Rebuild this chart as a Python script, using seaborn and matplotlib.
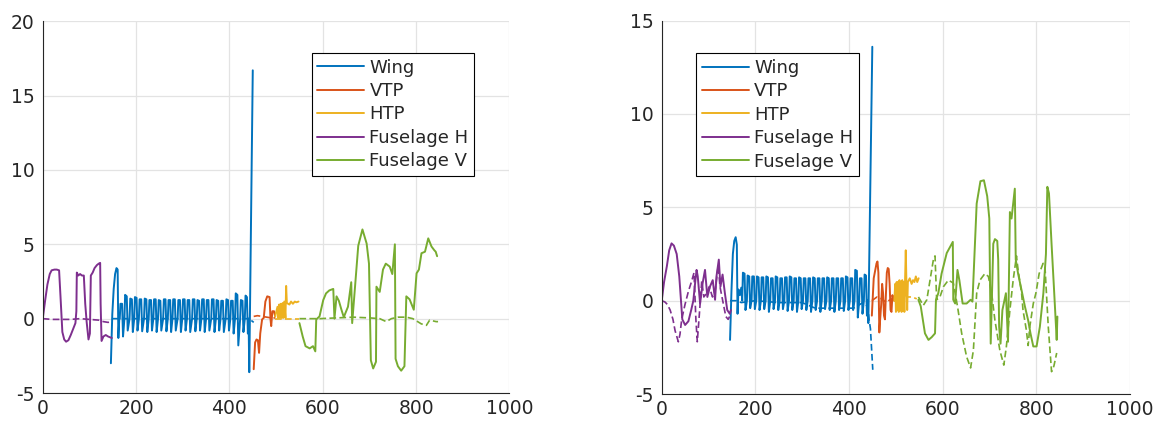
import matplotlib
matplotlib.use("Agg")
import matplotlib.pyplot as plt
import seaborn as sns
from matplotlib.lines import Line2D

sns.set_theme(style="whitegrid")
plt.rcParams['font.family'] = ['DejaVu Sans']
plt.rcParams['axes.unicode_minus'] = False

NAMES = ['Wing', 'VTP', 'HTP', 'Fuselage H', 'Fuselage V']
COLORS = ['#0072BD', '#D95319', '#EDB120', '#7E2F8E', '#77AC30']

# ---------------- left panel ----------------
fush_l_x = [0, 5, 10, 15, 19, 25, 30, 35, 38, 42, 46, 50, 55, 60, 65, 70, 72, 73, 76, 80, 84, 88, 91, 94,
            98, 101, 103, 107, 111, 116, 120, 123, 124, 126, 130, 135, 140, 144, 148]
fush_l_y = [0, 1.2, 2.3, 3.0, 3.25, 3.3, 3.3, 3.25, 1.5, -0.9, -1.4, -1.55, -1.45, -1.1, -0.7, -0.3, 0.5, 3.1,
            2.9, 3.0, 2.9, 2.9, 1.0, -0.2, -1.4, -1.0, 2.9, 3.1, 3.4, 3.6, 3.7, 3.75, 1.0, -1.5, -1.2, -1.1,
            -1.2, -1.25, -1.3]
fush_l_dx = [0, 20, 40, 60, 80, 100, 120, 130, 140, 148]
fush_l_dy = [0, -0.05, -0.05, -0.05, 0, -0.05, -0.1, -0.2, -0.25, -0.2]

wing_l_x = [146, 149, 152, 155, 158, 160.5, 162, 164,
            165, 166.5, 170, 172, 175, 176.5, 180, 182, 186, 187.5, 191, 193, 196, 197.5, 201, 203,
            206, 207.5, 211, 213, 217, 218.5, 222, 224, 227, 228.5, 232, 234, 237, 238.5, 242, 244,
            247, 248.5, 252, 254, 258, 259.5, 263, 265, 268, 269.5, 273, 275, 278, 279.5, 283, 285,
            289, 290.5, 294, 296, 299, 300.5, 304, 306, 309, 310.5, 314, 316, 320, 321.5, 325, 327,
            330, 331.5, 335, 337, 340, 341.5, 345, 347, 350, 351.5, 355, 357, 361, 362.5, 366, 368,
            371, 372.5, 376, 378, 381, 382.5, 386, 388, 392, 393.5, 397, 399, 402, 403.5, 407, 409,
            412, 413.5, 417, 419, 423, 424.5, 428, 430, 433, 434.5, 437.5, 439.5,
            441, 442.5, 450]
wing_l_y = [-3.0, 0.3, 2.0, 3.0, 3.4, 3.3, -1.3, 0,
            0, 1.0, 1.0, -1.2, 0, 1.6, 1.5, -0.8, 0, 1.35, 1.3, -0.9, 0, 1.45, 1.4, -0.8,
            0, 1.3, 1.3, -0.85, 0, 1.35, 1.3, -0.9, 0, 1.25, 1.25, -0.8, 0, 1.3, 1.3, -0.9,
            0, 1.25, 1.2, -0.8, 0, 1.3, 1.3, -0.85, 0, 1.25, 1.25, -0.9, 0, 1.3, 1.3, -0.8,
            0, 1.25, 1.25, -0.9, 0, 1.3, 1.3, -0.8, 0, 1.25, 1.25, -0.9, 0, 1.3, 1.3, -0.85,
            0, 1.25, 1.2, -0.8, 0, 1.3, 1.3, -0.9, 0, 1.25, 1.25, -0.8, 0, 1.3, 1.3, -0.9,
            0, 1.25, 1.2, -0.8, 0, 1.2, 1.2, -0.9, 0, 1.3, 1.25, -0.8, 0, 1.2, 1.2, -1.0,
            0, 1.7, 1.6, -1.8, 0, 1.25, 1.2, -0.9, 0, 1.55, 1.45, -1.0,
            0, -3.6, 16.7]
wing_l_dx = [148, 200, 300, 400, 440, 446, 452]
wing_l_dy = [0, 0, 0, 0, 0, -0.1, -0.25]

vtp_l_x = [452, 455, 458, 461, 463.5, 466, 470, 473.5, 477, 481, 486, 488, 489.5, 492, 495.5, 498]
vtp_l_y = [-3.4, -1.6, -1.4, -1.45, -2.3, -1.0, -0.05, 0.05, 1.15, 1.5, 1.45, -0.05, -0.5, 0.5, 0.5, 0.15]
vtp_l_dx = [452, 460, 470, 480, 490, 498]
vtp_l_dy = [0.15, 0.2, 0.15, 0.1, 0.05, 0.05]

htp_l_x = [498, 503, 504.5, 506.5, 508, 510, 512, 514, 515.5, 517.5, 520, 521.5, 523, 528.5, 532, 536,
           540, 543.5, 548]
htp_l_y = [0.15, 0.8, 0.05, 0.95, 0.05, 1.0, 0.05, 1.05, 0.05, 1.15, 0.05, 2.2, 1.05, 0.95, 1.15, 1.0,
           1.15, 1.1, 1.15]
htp_l_dx = [498, 520, 548]
htp_l_dy = [0, 0, 0]

fusv_l_x = [550, 557, 563, 572, 579, 584, 586, 593, 601, 607, 614, 622.5, 625, 629.5, 634.5, 640, 645,
            654, 661, 663, 676, 685, 694, 699, 703, 708, 714, 715, 722, 729, 735, 743.5, 749, 754.5,
            756, 761, 768, 775, 779, 786, 795, 801, 806, 811.5, 819, 826, 833, 839, 842, 845]
fusv_l_y = [-0.3, -1.2, -1.85, -2.0, -1.85, -2.2, -0.05, 0.15, 1.25, 1.7, 1.9, 2.0, 0.0, 1.5, 1.2, 0.6,
            0.1, 0.8, 2.45, -0.3, 4.9, 6.0, 5.05, 3.7, -2.8, -3.35, -2.9, 2.15, 1.8, 3.3, 3.7, 3.5, 3.0,
            5.0, -2.7, -3.2, -3.5, -3.2, 1.5, 1.3, 0.6, 3.05, 3.3, 4.4, 4.5, 5.4, 4.85, 4.6, 4.5, 4.2]
fusv_l_dx = [550, 593, 629, 665, 701, 722, 736, 747, 761, 779, 793, 811, 822, 829, 843, 847]
fusv_l_dy = [0, 0, 0.05, 0.1, 0.05, 0, -0.2, 0, 0.1, 0.1, 0, -0.35, -0.45, -0.1, -0.2, -0.2]

# ---------------- right panel ----------------
fush_r_x = [0, 5, 11, 16, 21, 26, 32, 37.5, 44, 50, 57, 63, 67.5, 72, 74.5, 77, 82, 87.5, 92.5, 97.5,
            103, 109, 114, 117, 122, 125.5, 130, 135, 140, 145.5, 148]
fush_r_y = [0, 1.0, 1.85, 2.7, 3.07, 2.95, 2.5, 1.3, -1.0, -1.3, -1.1, -0.5, 0.0, 1.1, 1.65, 1.3, -0.15,
            0.95, 1.65, 0.2, 0.75, 1.1, 0.05, 1.3, 2.2, 0.75, 1.4, 0.4, -0.5, -0.7, -0.5]
fush_r_dx = [0, 7, 12, 18, 24, 28.5, 35.5, 39, 42.7, 49.8, 57, 64, 69, 73, 76, 80.5, 85.5, 90, 96, 101.5,
             108.5, 114.5, 120.8, 124.5, 131.5, 137, 142, 146]
fush_r_dy = [0, -0.07, -0.2, -0.5, -1.0, -1.6, -2.2, -1.8, -1.0, -0.2, 0.5, 1.05, 1.5, -1.0, -2.2, -0.7,
             1.05, 0.2, 0.4, 0.75, 0.2, 0.6, 1.9, 0.75, -0.15, -0.85, -1.0, -0.8]

wing_r_x = [146, 149, 152, 155, 158, 160.5, 162, 164, 167, 170,
            172, 173.5, 177, 179, 182, 183.5, 187, 189, 192, 193.5, 197, 199, 202, 203.5, 207, 209,
            212, 213.5, 217, 219, 222, 223.5, 227, 229, 232, 233.5, 237, 239, 242, 243.5, 247, 249,
            252, 253.5, 257, 259, 262, 263.5, 267, 269, 272, 273.5, 277, 279, 282, 283.5, 287, 289,
            292, 293.5, 297, 299, 302, 303.5, 307, 309, 312, 313.5, 317, 319, 322, 323.5, 327, 329,
            332, 333.5, 337, 339, 342, 343.5, 347, 349, 352, 353.5, 357, 359, 362, 363.5, 367, 369,
            372, 373.5, 377, 379, 382, 383.5, 387, 389, 392, 393.5, 397, 399, 402, 403.5, 407, 409,
            412, 413.5, 417, 419, 422, 423.5, 427, 429, 432, 433.5, 436.5, 438.5,
            440, 441.5, 450]
wing_r_y = [-2.1, 0.5, 2.5, 3.2, 3.4, 3.0, -0.7, 0.6, 0.3, 0.7,
            0, 1.5, 1.45, -0.5, 0, 1.35, 1.3, -0.4, 0, 1.3, 1.3, -0.45, 0, 1.3, 1.25, -0.5,
            0, 1.25, 1.25, -0.45, 0, 1.3, 1.25, -0.6, 0, 1.2, 1.2, -0.45, 0, 1.3, 1.25, -0.5,
            0, 1.2, 1.2, -0.45, 0, 1.25, 1.25, -0.55, 0, 1.3, 1.25, -0.5, 0, 1.2, 1.2, -0.6,
            0, 1.25, 1.2, -0.45, 0, 1.2, 1.2, -0.5, 0, 1.2, 1.2, -0.6, 0, 1.25, 1.2, -0.5,
            0, 1.2, 1.2, -0.6, 0, 1.2, 1.2, -0.45, 0, 1.25, 1.2, -0.5, 0, 1.2, 1.2, -0.6,
            0, 1.2, 1.2, -0.5, 0, 1.2, 1.2, -0.55, 0, 1.3, 1.25, -0.5, 0, 1.2, 1.2, -0.5,
            0, 1.65, 1.6, -0.9, 0, 1.2, 1.2, -0.7, 0, 1.4, 1.35, -0.8,
            0, -1.2, 13.6]
wing_r_dx = [146, 160, 170, 200, 250, 300, 328, 335, 400, 410, 430, 440, 443, 446, 451]
wing_r_dy = [0, 0, -0.1, 0, -0.1, -0.1, -0.4, -0.4, -0.4, -0.4, -0.1, -0.3, -1.0, -1.5, -3.7]

vtp_r_x = [449, 451, 453, 456, 459, 461, 463, 465, 467, 469, 471, 473, 475, 477, 479, 481, 483, 485, 487,
           489, 491, 493, 495, 497]
vtp_r_y = [-0.8, 0.2, 1.2, 1.6, 2.0, 2.1, 1.5, -1.7, -0.9, -0.2, 0.9, 0.4, -0.8, -1.0, 0.3, 1.5, 1.75,
           1.7, 0.9, -0.5, -0.6, 0.3, 0.1, 0.0]
vtp_r_dx = [449, 460, 470, 480, 490, 497]
vtp_r_dy = [0, 0.2, 0.1, -0.1, 0.1, 0]

htp_r_x = [497, 499, 500.5, 502, 503.5, 505, 506.5, 508, 509.5, 511, 512.5, 514, 515.5, 517, 518.5, 520,
           521.5, 523, 524.5, 526, 530, 534, 537, 540, 543, 546, 549]
htp_r_y = [0.0, 0.9, -0.6, 1.0, -0.5, 1.0, -0.6, 1.1, -0.5, 1.0, -0.6, 1.1, -0.5, 1.0, -0.6, 1.1, 2.7,
           0.8, -0.5, 1.0, 1.2, 0.9, 1.1, 1.0, 1.3, 1.0, 1.2]
htp_r_dx = [500, 510, 520, 525, 535, 545]
htp_r_dy = [0.1, 0.2, 0.3, 0.2, 0.2, 0.1]

fusv_r_x = [548.5, 553.5, 562.5, 570, 577, 584, 586, 591, 598, 609, 622, 623, 627, 632, 636, 643, 651.5,
            660, 664, 673, 681, 688.5, 695.5, 700, 703, 708.5, 712, 717, 719, 721, 724, 728, 735.5, 740,
            744, 747.5, 754.5, 756.5, 761.5, 769, 776, 783, 788, 794, 801, 808, 815.5, 821, 824, 827.5,
            833, 838, 844, 845.5]
fusv_r_y = [0.05, -0.3, -1.75, -2.1, -1.95, -1.75, 0.05, 0.4, 1.45, 2.55, 3.15, 0.05, -0.15, 1.65, 1.1,
            -0.15, -0.15, 0.05, -0.05, 5.2, 6.4, 6.45, 5.6, 4.4, -2.3, 3.05, 3.3, 3.2, 2.2, -1.4, -2.3,
            -0.5, 0.4, -2.2, 4.75, 4.4, 6.0, 2.2, 1.45, 0.55, -0.3, -1.05, -1.75, -2.45, -2.45, -1.4, 0.4,
            2.5, 6.1, 5.75, 3.05, 0.75, -2.1, -0.85]
fusv_r_dx = [548.5, 559, 566.5, 580.5, 584, 587.5, 594.5, 602, 612.5, 623, 632, 641, 651.5, 660, 666,
             673, 680, 690.5, 698, 705, 712, 722.5, 731, 736.5, 744, 751, 758, 761.5, 769, 772, 779, 783,
             786.5, 794, 799.5, 806.5, 815, 819, 826, 833, 838, 844]
fusv_r_dy = [0.2, -0.25, 0.05, 2.2, 2.4, 0.05, 0.2, 0.75, 1.1, 0.95, -0.3, -1.75, -3.0, -3.6, -2.65, 0.4,
             1.1, 1.45, 1.3, 0.4, -1.05, -2.65, -3.45, -2.45, -0.5, 1.1, 2.4, 1.65, 0.4, -0.5, -1.55,
             -2.4, -1.4, -0.15, 0.4, 1.45, 2.0, 1.8, -1.4, -3.8, -3.5, -2.8]

left_series = [
    (wing_l_x, wing_l_y, wing_l_dx, wing_l_dy),
    (vtp_l_x, vtp_l_y, vtp_l_dx, vtp_l_dy),
    (htp_l_x, htp_l_y, htp_l_dx, htp_l_dy),
    (fush_l_x, fush_l_y, fush_l_dx, fush_l_dy),
    (fusv_l_x, fusv_l_y, fusv_l_dx, fusv_l_dy),
]
right_series = [
    (wing_r_x, wing_r_y, wing_r_dx, wing_r_dy),
    (vtp_r_x, vtp_r_y, vtp_r_dx, vtp_r_dy),
    (htp_r_x, htp_r_y, htp_r_dx, htp_r_dy),
    (fush_r_x, fush_r_y, fush_r_dx, fush_r_dy),
    (fusv_r_x, fusv_r_y, fusv_r_dx, fusv_r_dy),
]

fig = plt.figure(figsize=(11.65, 4.21), dpi=100)
ax_l = fig.add_axes([0.0367, 0.0665, 0.4006, 0.883])
ax_r = fig.add_axes([0.568, 0.064, 0.4017, 0.887])


def draw_panel(ax, series, ylim, yticks, leg_loc, leg_anchor):
    for (xs, ys, xd, yd), color in zip(series, COLORS):
        sns.lineplot(x=xd, y=yd, ax=ax, color=color, lw=1.2, linestyle=(0, (4, 2)),
                     sort=False, estimator=None)
        sns.lineplot(x=xs, y=ys, ax=ax, color=color, lw=1.4, sort=False, estimator=None)

    ax.set_xlim(0, 1000)
    ax.set_ylim(*ylim)
    ax.set_xticks([0, 200, 400, 600, 800, 1000])
    ax.set_yticks(yticks)
    ax.set_xlabel('')
    ax.set_ylabel('')
    ax.grid(True, color='#e3e3e3', lw=0.9)
    for side in ['top', 'right']:
        ax.spines[side].set_visible(False)
    for side in ['left', 'bottom']:
        ax.spines[side].set_color('#262626')
        ax.spines[side].set_linewidth(0.8)
    ax.tick_params(direction='in', length=4, width=0.8, color='#262626',
                   labelsize=13.5, labelcolor='#262626')
    ax.tick_params(axis='y', pad=6)
    ax.tick_params(axis='x', pad=4)

    handles = [Line2D([], [], color=c, lw=1.4) for c in COLORS]
    leg = ax.legend(handles, NAMES, loc=leg_loc, bbox_to_anchor=leg_anchor, fontsize=13,
                    frameon=True, fancybox=False, framealpha=1, edgecolor='black',
                    handlelength=2.6, handletextpad=0.3, labelspacing=0.3,
                    borderpad=0.3, borderaxespad=0)
    leg.get_frame().set_linewidth(0.8)


draw_panel(ax_l, left_series, (-5, 20), [-5, 0, 5, 10, 15, 20], 'upper right', (0.924, 0.914))
draw_panel(ax_r, right_series, (-5, 15), [-5, 0, 5, 10, 15], 'upper left', (0.074, 0.912))

fig.savefig('out.png', dpi=100)
